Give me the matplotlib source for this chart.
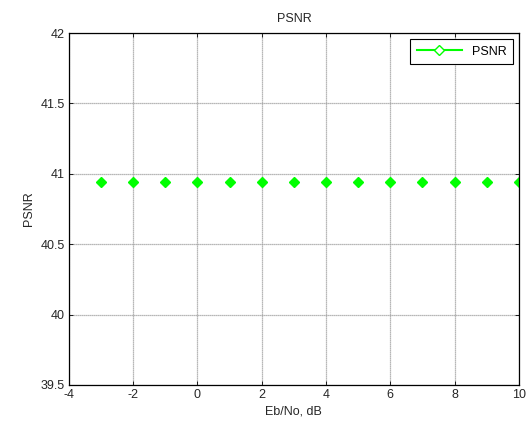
import numpy as np
import matplotlib
matplotlib.use('Agg')
import matplotlib.pyplot as plt
from matplotlib.lines import Line2D

# Eb/No values (dB) and measured PSNR
ebno = [-3, -2, -1, 0, 1, 2, 3, 4, 5, 6, 7, 8, 9, 10]
psnr = [40.94, 40.94, 40.94, 40.94, 40.94, 40.94, 40.94,
        40.94, 40.94, 40.94, 40.94, 40.94, 40.94, 40.94]

plt.rcParams['font.family'] = ['Liberation Sans', 'DejaVu Sans']
plt.rcParams['font.size'] = 9
plt.rcParams['axes.unicode_minus'] = False

fig = plt.figure(figsize=(5.3, 4.24), dpi=100)
ax = fig.add_axes([0.130, 0.092, 0.849, 0.830])

green = '#00ff00'
ax.plot(ebno, psnr, linestyle='none', marker='D', markersize=4.8,
        color=green, markerfacecolor=green, markeredgecolor=green)

ax.set_xlim(-4, 10)
ax.set_ylim(39.5, 42)
ax.set_xticks(np.arange(-4, 11, 2))
ax.set_yticks([39.5, 40, 40.5, 41, 41.5, 42])
ax.set_yticklabels(['39.5', '40', '40.5', '41', '41.5', '42'])

ax.grid(True, color='#a0a0a0', linestyle=(0, (1, 0.6)), linewidth=0.9)
ax.tick_params(direction='in', length=3, width=0.6, top=True, right=True,
               pad=3, colors='black', labelcolor='#262626')
for s in ax.spines.values():
    s.set_linewidth(0.9)

ax.set_title('PSNR', fontsize=9, color='#262626', pad=8)
ax.set_xlabel('Eb/No, dB', color='#262626', labelpad=3)
ax.set_ylabel('PSNR', color='#262626', labelpad=4)

handle = Line2D([], [], color=green, linewidth=1.5, marker='D', markersize=5,
                markerfacecolor='white', markeredgecolor=green)
leg = ax.legend([handle], ['PSNR'], loc='upper right', fancybox=False,
                framealpha=1, edgecolor='black', handlelength=3.6,
                borderaxespad=0.5, borderpad=0.5, fontsize=9)
leg.get_frame().set_linewidth(0.8)

plt.savefig('out.png', dpi=100)
